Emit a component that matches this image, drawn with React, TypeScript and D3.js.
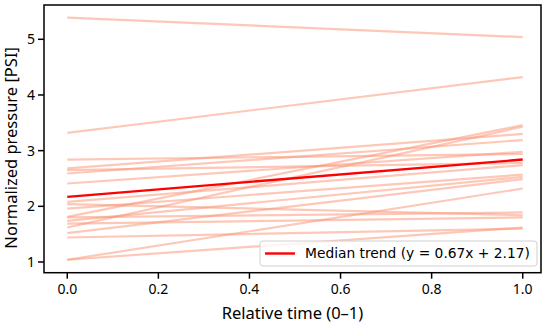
import { useEffect, useRef } from "react";
import * as d3 from "d3";

// start (t=0) and end (t=1) values for each sample
const startValues = [5.39, 3.32, 2.84, 2.68, 2.65, 2.59, 2.41, 2.08, 2.04, 1.96, 1.81, 1.8, 1.74, 1.69, 1.62, 1.52, 1.44, 1.04, 1.04];
const endValues = [5.04, 4.32, 2.94, 3.3, 2.78, 3.19, 2.98, 2.74, 1.84, 2.57, 3.46, 1.89, 2.53, 1.8, 3.43, 2.49, 1.6, 1.62, 2.32];
const medianSlope = 0.67;
const medianIntercept = 2.17;
const xTicks = [0, 0.2, 0.4, 0.6, 0.8, 1.0];
const yTicks = [1, 2, 3, 4, 5];

const W = 550;
const H = 325;

export default function App() {
  const svgRef = useRef<SVGSVGElement>(null);

  useEffect(() => {
    if (!svgRef.current) return;
    const svg = d3.select(svgRef.current);
    svg.selectAll("*").remove();

    const left = 44;
    const right = 541;
    const top = 5;
    const bottom = 272.7;

    const x = d3.scaleLinear().domain([-0.05, 1.05]).range([44.5, 545.5]);
    const y = d3.scaleLinear().domain([1, 5]).range([262, 39.3]);

    const line = d3
      .line<[number, number]>()
      .x((d) => x(d[0]))
      .y((d) => y(d[1]));

    const g = svg.append("g");

    // individual sample trends
    startValues.forEach((s, i) => {
      g.append("path")
        .attr(
          "d",
          line([
            [0, s],
            [1, endValues[i]],
          ])
        )
        .attr("fill", "none")
        .attr("stroke", "#fc9272")
        .attr("stroke-opacity", 0.5)
        .attr("stroke-width", 2.2);
    });

    // median trend
    g.append("path")
      .attr(
        "d",
        line([
          [0, medianIntercept],
          [1, medianIntercept + medianSlope],
        ])
      )
      .attr("fill", "none")
      .attr("stroke", "#ff0000")
      .attr("stroke-width", 2.4);

    // frame
    svg
      .append("rect")
      .attr("x", left)
      .attr("y", top)
      .attr("width", right - left)
      .attr("height", bottom - top)
      .attr("fill", "none")
      .attr("stroke", "#000")
      .attr("stroke-width", 1.5);

    const font = "'Noto Sans', sans-serif";

    // x ticks
    xTicks.forEach((t) => {
      svg
        .append("line")
        .attr("x1", x(t))
        .attr("x2", x(t))
        .attr("y1", bottom)
        .attr("y2", bottom + 6)
        .attr("stroke", "#000")
        .attr("stroke-width", 1.5);
      svg
        .append("text")
        .attr("x", x(t))
        .attr("y", bottom + 21)
        .attr("text-anchor", "middle")
        .attr("font-family", font)
        .attr("font-size", 14)
        .attr("fill", "#000")
        .text(t.toFixed(1));
    });

    // y ticks
    yTicks.forEach((t) => {
      svg
        .append("line")
        .attr("x1", left - 6)
        .attr("x2", left)
        .attr("y1", y(t))
        .attr("y2", y(t))
        .attr("stroke", "#000")
        .attr("stroke-width", 1.5);
      svg
        .append("text")
        .attr("x", left - 9)
        .attr("y", y(t))
        .attr("dy", "0.35em")
        .attr("text-anchor", "end")
        .attr("font-family", font)
        .attr("font-size", 14)
        .attr("fill", "#000")
        .text(t);
    });

    // axis labels
    svg
      .append("text")
      .attr("x", (left + right) / 2)
      .attr("y", 319)
      .attr("text-anchor", "middle")
      .attr("font-family", font)
      .attr("font-size", 16.5)
      .attr("fill", "#000")
      .text("Relative time (0–1)");

    svg
      .append("text")
      .attr("transform", `translate(17, ${(top + bottom) / 2 + 9}) rotate(-90)`)
      .attr("text-anchor", "middle")
      .attr("font-family", font)
      .attr("font-size", 16.5)
      .attr("fill", "#000")
      .text("Normalized pressure [PSI]");

    // legend
    const lg = svg.append("g");
    lg.append("rect")
      .attr("x", 260)
      .attr("y", 241)
      .attr("width", 277)
      .attr("height", 25)
      .attr("rx", 3)
      .attr("fill", "#fff")
      .attr("fill-opacity", 0.8)
      .attr("stroke", "#d0d0d0");
    lg.append("line")
      .attr("x1", 265)
      .attr("x2", 295)
      .attr("y1", 253.5)
      .attr("y2", 253.5)
      .attr("stroke", "#ff0000")
      .attr("stroke-width", 2.4);
    lg.append("text")
      .attr("x", 305)
      .attr("y", 253.5)
      .attr("dy", "0.35em")
      .attr("font-family", "'DejaVu Sans', sans-serif")
      .attr("font-size", 13.8)
      .attr("fill", "#000")
      .text(`Median trend (y = ${medianSlope.toFixed(2)}x + ${medianIntercept.toFixed(2)})`);
  }, []);

  return (
    <svg
      ref={svgRef}
      width={W}
      height={H}
      style={{ position: "absolute", left: 0, top: 0, background: "#fff" }}
    />
  );
}
